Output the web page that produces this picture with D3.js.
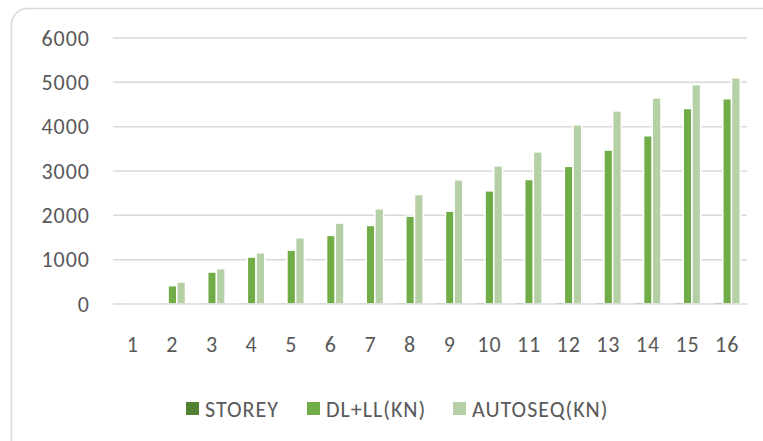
<!DOCTYPE html>
<html>
<head>
<meta charset="utf-8">
<script src="https://cdn.jsdelivr.net/npm/d3@7"></script>
<style>
  body { margin: 0; background: #fff; }
  text { font-family: Carlito, Calibri, Lato, sans-serif; fill: #595959; }
</style>
</head>
<body>
<div id="chart-area"></div>
<script>
// data
var categories = ["1","2","3","4","5","6","7","8","9","10","11","12","13","14","15","16"];
var seriesNames = ["STOREY", "DL+LL(KN)", "AUTOSEQ(KN)"];
var storey = [1,2,3,4,5,6,7,8,9,10,11,12,13,14,15,16];
var dlll = [0,413,721,1059,1216,1547,1772,1982,2095,2553,2808,3105,3472,3795,4410,4630];
var autoseq = [0,496,796,1156,1494,1825,2148,2470,2801,3116,3432,4042,4355,4652,4945,5100];
var yTicks = [0,1000,2000,3000,4000,5000,6000];
var colors = ["#548235", "#70ad47", "#b4d0a4"];

var width = 763, height = 441;
var plot = { left: 113, right: 747, top: 38, bottom: 304 };
var fontFam = "Carlito, Calibri, Lato, sans-serif";

var svg = d3.select("#chart-area")
	.append("svg")
	.attr("width", width)
	.attr("height", height);

// outer rounded frame (runs off the right / bottom edge)
svg.append("rect")
	.attr("x", 11.5)
	.attr("y", 8.5)
	.attr("width", 775)
	.attr("height", 455)
	.attr("rx", 16)
	.attr("fill", "#fff")
	.attr("stroke", "#d9d9d9")
	.attr("stroke-width", 1.5);

var x = d3.scaleBand()
	.domain(categories)
	.range([plot.left, plot.right])
	.paddingInner(0.341)
	.paddingOuter(0.1705);

var x1 = d3.scaleBand()
	.domain(seriesNames)
	.range([0, x.bandwidth()]);

var y = d3.scaleLinear()
	.domain([0, 6000])
	.range([plot.bottom, plot.top]);

// gridlines
svg.append("g")
	.selectAll("line")
	.data(yTicks.filter(d => d > 0))
	.enter()
	.append("line")
	.attr("x1", plot.left)
	.attr("x2", plot.right)
	.attr("y1", d => y(d))
	.attr("y2", d => y(d))
	.attr("stroke", "#d9d9d9")
	.attr("stroke-width", 1.5);

// y labels
var yAxisCall = d3.axisLeft(y).tickValues(yTicks).tickFormat(d3.format("d")).tickSize(0).tickPadding(0);
var yAxisGroup = svg.append("g")
	.attr("transform", "translate(" + (plot.left - 23) + ",0)")
	.call(yAxisCall);
yAxisGroup.select(".domain").remove();
yAxisGroup.selectAll("text")
	.attr("font-size", "22px")
	.attr("letter-spacing", "1px")
	.attr("fill", "#595959")
	.style("font-family", fontFam);

// x labels
var xAxisCall = d3.axisBottom(x).tickSize(0).tickPadding(0);
var xAxisGroup = svg.append("g")
	.attr("transform", "translate(0," + (plot.bottom + 32) + ")")
	.call(xAxisCall);
xAxisGroup.select(".domain").remove();
xAxisGroup.selectAll("text")
	.attr("font-size", "22px")
	.attr("letter-spacing", "1px")
	.attr("fill", "#595959")
	.style("font-family", fontFam);

// bars
var series = [storey, dlll, autoseq];
var groups = svg.append("g")
	.selectAll("g")
	.data(categories)
	.enter()
	.append("g")
	.attr("transform", d => "translate(" + x(d) + ",0)");

groups.selectAll("rect")
	.data((d, i) => seriesNames.map((s, j) => ({ name: s, value: series[j][i], color: colors[j] })))
	.enter()
	.append("rect")
	.attr("x", d => x1(d.name))
	.attr("width", x1.bandwidth())
	.attr("y", d => y(d.value))
	.attr("height", d => y(0) - y(d.value))
	.attr("fill", d => d.color)
	.attr("stroke", d => d.value > 20 ? "#fff" : "none")
	.attr("stroke-width", 1.5);

// category axis line on top
svg.append("line")
	.attr("x1", plot.left)
	.attr("x2", plot.right)
	.attr("y1", y(0))
	.attr("y2", y(0))
	.attr("stroke", "#d9d9d9")
	.attr("stroke-width", 1.5);

// legend
var legendX = [186, 307, 453];
var legend = svg.append("g")
	.selectAll("g")
	.data(seriesNames)
	.enter()
	.append("g")
	.attr("transform", (d, i) => "translate(" + legendX[i] + ",402)");

legend.append("rect")
	.attr("width", 13)
	.attr("height", 13)
	.attr("fill", (d, i) => colors[i]);

legend.append("text")
	.attr("x", 19)
	.attr("y", 14.5)
	.attr("font-size", "22px")
	.attr("letter-spacing", "1px")
	.text(d => d);
</script>
</body>
</html>
